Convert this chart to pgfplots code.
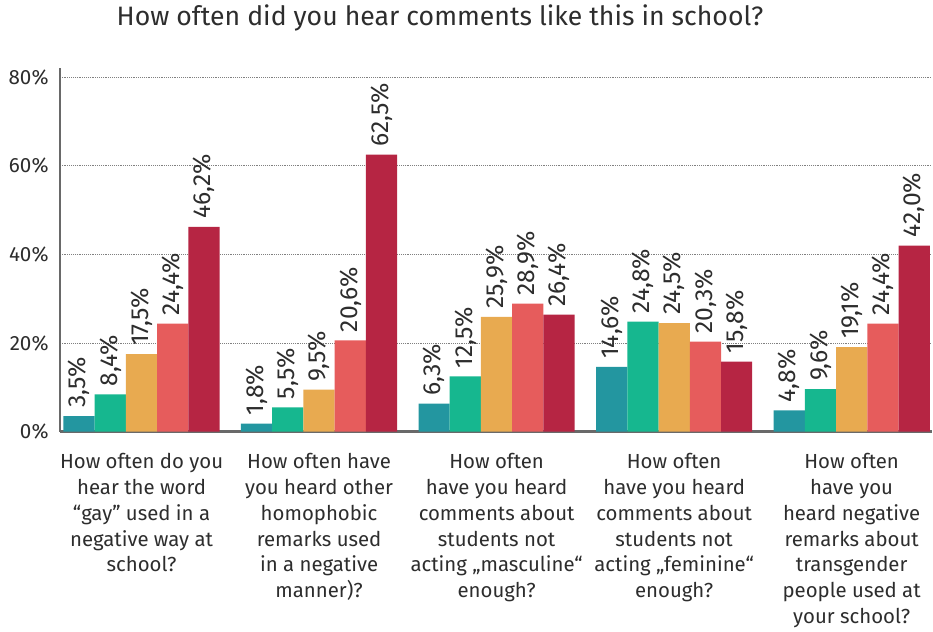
\documentclass[border=0pt]{standalone}
\usepackage{pgfplots}
\pgfplotsset{compat=1.18}
\usepackage{fontspec}
\setmainfont{Fira Sans}
\definecolor{cA}{RGB}{35,150,160}
\definecolor{cB}{RGB}{22,183,143}
\definecolor{cC}{RGB}{232,170,80}
\definecolor{cD}{RGB}{230,92,92}
\definecolor{cE}{RGB}{182,37,67}
\definecolor{axisgray}{RGB}{105,105,105}
\definecolor{txt}{RGB}{45,45,45}
\begin{document}
\begin{tikzpicture}
\begin{axis}[
  scale only axis, width=654.75pt, height=273pt,
  xmin=-0.46, xmax=4.45, ymin=0, ymax=82,
  axis x line*=bottom, axis y line*=left,
  axis line style={draw=axisgray, line width=1.8pt},
  x axis line style={line width=2.2pt},
  major tick length=0pt,
  ytick={0,20,40,60,80},
  yticklabel={\pgfmathprintnumber{\tick}\%},
  yticklabel style={font=\fontsize{15.5}{17}\selectfont, text=txt, xshift=-5pt},
  ymajorgrids, grid style={densely dotted, gray, line width=0.7pt},
  xtick={0,1,2,3,4},
  xticklabels={
    {How often do you\\hear the word\\“gay” used in a\\negative way at\\school?},
    {How often have\\you heard other\\homophobic\\remarks used\\in a negative\\manner)?},
    {How often\\have you heard\\comments about\\students not\\acting „masculine“\\enough?},
    {How often\\have you heard\\comments about\\students not\\acting „feminine“\\enough?},
    {How often\\have you\\heard negative\\remarks about\\transgender\\people used at\\your school?}},
  xticklabel style={align=center, font=\fontsize{15.3}{19.3}\selectfont, text=txt, anchor=north, yshift=-13pt},
  /pgf/number format/assume math mode=true,
  ybar=0pt, bar width=0.176,
  nodes near coords={\pgfmathprintnumber[use comma, fixed, fixed zerofill, precision=1]{\pgfplotspointmeta}\%},
  nodes near coords style={rotate=90, anchor=west, font=\fontsize{18.5}{20}\selectfont, text=txt, inner xsep=6pt, inner ysep=0pt},
  title={How often did you hear comments like this in school?},
  title style={at={(0.436,1)}, anchor=center, yshift=32pt, font=\fontsize{20}{23}\selectfont, text=txt},
]
\addplot[fill=cA, draw=none] coordinates {(0,3.5) (1,1.8) (2,6.3) (3,14.6) (4,4.8)};
\addplot[fill=cB, draw=none] coordinates {(0,8.4) (1,5.5) (2,12.5) (3,24.8) (4,9.6)};
\addplot[fill=cC, draw=none] coordinates {(0,17.5) (1,9.5) (2,25.9) (3,24.5) (4,19.1)};
\addplot[fill=cD, draw=none] coordinates {(0,24.4) (1,20.6) (2,28.9) (3,20.3) (4,24.4)};
\addplot[fill=cE, draw=none] coordinates {(0,46.2) (1,62.5) (2,26.4) (3,15.8) (4,42.0)};
\end{axis}
\path ([shift={(-45pt,-147pt)}]current axis.south west) rectangle ([shift={(0pt,51pt)}]current axis.north east);
\end{tikzpicture}
\end{document}
